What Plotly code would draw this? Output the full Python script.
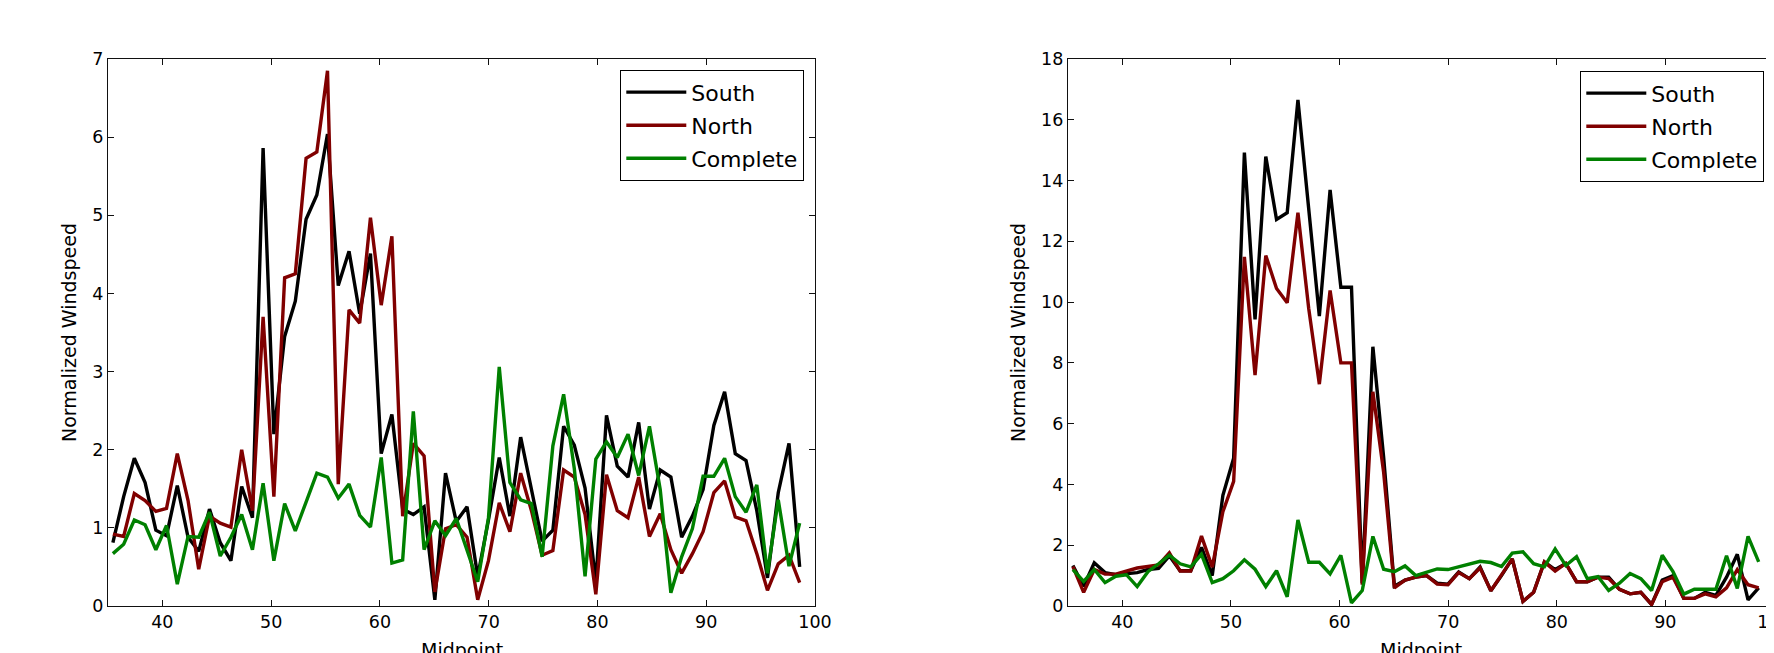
import plotly.graph_objects as go

# ---- data -------------------------------------------------------------
midpoint = [35.45, 36.44, 37.42, 38.41, 39.40, 40.38, 41.37, 42.36, 43.34, 44.33,
            45.32, 46.30, 47.29, 48.28, 49.26, 50.25, 51.24, 52.22, 53.21, 54.20,
            55.18, 56.17, 57.16, 58.14, 59.13, 60.12, 61.10, 62.09, 63.07, 64.06,
            65.05, 66.03, 67.02, 68.01, 68.99, 69.98, 70.97, 71.95, 72.94, 73.93,
            74.91, 75.90, 76.89, 77.87, 78.86, 79.85, 80.83, 81.82, 82.81, 83.79,
            84.78, 85.77, 86.75, 87.74, 88.73, 89.71, 90.70, 91.69, 92.67, 93.66,
            94.65, 95.63, 96.62, 97.61, 98.59]

# left panel
south_a = [0.81, 1.40, 1.89, 1.58, 0.97, 0.90, 1.54, 0.88, 0.70, 1.24,
           0.81, 0.58, 1.53, 1.13, 5.86, 2.20, 3.45, 3.90, 4.95, 5.26,
           6.04, 4.10, 4.54, 3.74, 4.51, 1.95, 2.45, 1.24, 1.17, 1.27,
           0.08, 1.70, 1.08, 1.27, 0.38, 1.10, 1.90, 1.15, 2.16, 1.47,
           0.83, 0.97, 2.30, 2.06, 1.51, 0.30, 2.44, 1.79, 1.65, 2.35,
           1.24, 1.74, 1.65, 0.88, 1.15, 1.49, 2.31, 2.74, 1.95, 1.86,
           1.22, 0.36, 1.45, 2.08, 0.50]
north_a = [0.92, 0.89, 1.44, 1.35, 1.21, 1.25, 1.95, 1.35, 0.47, 1.15,
           1.06, 1.01, 2.00, 1.22, 3.70, 1.40, 4.20, 4.25, 5.73, 5.81,
           6.85, 1.56, 3.79, 3.62, 4.97, 3.85, 4.73, 1.15, 2.08, 1.92,
           0.18, 0.99, 1.04, 0.88, 0.08, 0.58, 1.32, 0.95, 1.70, 1.22,
           0.65, 0.71, 1.74, 1.65, 1.17, 0.15, 1.68, 1.22, 1.13, 1.65,
           0.89, 1.18, 0.72, 0.42, 0.67, 0.95, 1.45, 1.60, 1.14, 1.09,
           0.67, 0.20, 0.54, 0.65, 0.30]
complete_a = [0.67, 0.79, 1.10, 1.04, 0.72, 1.03, 0.28, 0.89, 0.88, 1.20,
              0.64, 0.88, 1.17, 0.72, 1.57, 0.58, 1.31, 0.96, 1.33, 1.70,
              1.65, 1.38, 1.56, 1.16, 1.01, 1.90, 0.55, 0.59, 2.49, 0.72,
              1.09, 0.90, 1.12, 0.70, 0.31, 1.13, 3.06, 1.58, 1.36, 1.31,
              0.63, 2.05, 2.71, 1.76, 0.38, 1.88, 2.10, 1.90, 2.20, 1.67,
              2.30, 1.49, 0.17, 0.63, 0.99, 1.66, 1.66, 1.89, 1.40, 1.20,
              1.55, 0.42, 1.36, 0.51, 1.06]

# right panel
south_b = [1.33, 0.65, 1.42, 1.10, 1.03, 1.07, 1.10, 1.20, 1.24, 1.65,
           1.16, 1.16, 1.93, 1.00, 3.64, 4.86, 14.92, 9.43, 14.79, 12.72,
           12.94, 16.65, 13.10, 9.54, 13.69, 10.49, 10.49, 0.75, 8.53, 4.90,
           0.65, 0.85, 0.95, 1.00, 0.75, 0.72, 1.12, 0.90, 1.28, 0.50,
           1.00, 1.55, 0.15, 0.45, 1.45, 1.20, 1.40, 0.80, 0.80, 0.95,
           0.95, 0.55, 0.40, 0.45, 0.05, 0.85, 1.00, 0.25, 0.25, 0.45,
           0.35, 0.95, 1.70, 0.20, 0.60]
north_b = [1.30, 0.45, 1.20, 1.05, 1.05, 1.15, 1.25, 1.30, 1.35, 1.75,
           1.15, 1.15, 2.30, 1.28, 3.10, 4.10, 11.49, 7.60, 11.53, 10.45,
           9.98, 12.94, 9.80, 7.30, 10.38, 8.00, 8.00, 0.70, 7.05, 4.40,
           0.60, 0.85, 0.95, 1.00, 0.72, 0.70, 1.10, 0.90, 1.25, 0.50,
           1.00, 1.55, 0.15, 0.45, 1.45, 1.15, 1.40, 0.80, 0.80, 0.95,
           0.90, 0.55, 0.40, 0.45, 0.05, 0.80, 0.95, 0.25, 0.25, 0.40,
           0.30, 0.60, 1.20, 0.70, 0.60]
complete_b = [1.20, 0.81, 1.20, 0.77, 0.98, 1.03, 0.64, 1.13, 1.39, 1.67,
              1.39, 1.29, 1.70, 0.77, 0.90, 1.16, 1.52, 1.21, 0.64, 1.16,
              0.30, 2.83, 1.44, 1.44, 1.06, 1.67, 0.10, 0.51, 2.29, 1.21,
              1.13, 1.32, 1.00, 1.10, 1.22, 1.20, 1.29, 1.36, 1.47, 1.43,
              1.30, 1.74, 1.78, 1.39, 1.29, 1.88, 1.33, 1.62, 0.90, 0.97,
              0.51, 0.75, 1.07, 0.90, 0.51, 1.67, 1.13, 0.39, 0.55, 0.55,
              0.55, 1.65, 0.58, 2.29, 1.45]

series_names = ["South", "North", "Complete"]
series_colors = ["#000000", "#800000", "#008000"]
x_title = "Midpoint"
y_title = "Normalized Windspeed"

# ---- figure -----------------------------------------------------------
# the page body has an 8px margin: build the figure 8px smaller and
# express every target pixel position relative to that offset
OFF = 8
W, H = 1774 - OFF, 653 - OFF
FONT = "DejaVu Sans"


def px(v):
    return (v - OFF) / W


top_px, bot_px = 59 - OFF, 606 - OFF
plot_h = bot_px - top_px

fig = go.Figure()

panels = [
    ("x", "y", "legend", [south_a, north_a, complete_a]),
    ("x2", "y2", "legend2", [south_b, north_b, complete_b]),
]
for xa, ya, lg, ys in panels:
    for name, color, vals in zip(series_names, series_colors, ys):
        fig.add_trace(go.Scatter(
            x=midpoint, y=vals, mode="lines", name=name,
            line=dict(color=color, width=3.4),
            xaxis=xa, yaxis=ya, legend=lg, legendgroup=lg + name,
        ))

axis_common = dict(
    showgrid=False, zeroline=False, showline=True, mirror="ticks",
    linecolor="#111111", linewidth=1.3, automargin=False,
    ticks="inside", ticklen=6, tickwidth=1.1, tickcolor="#111111",
    tickfont=dict(family=FONT, size=17.5, color="black"),
)
title_font = dict(family=FONT, size=19, color="black")
legend_common = dict(
    xanchor="right", yanchor="top",
    bgcolor="white", bordercolor="black", borderwidth=1.3,
    font=dict(family=FONT, size=22, color="black"),
    tracegroupgap=1.5, itemwidth=60,
)

# x-axis titles sit partly below the bottom edge, as in the original
title_y = -(629 - bot_px) / plot_h
annotations = [
    dict(text=x_title, xref="x domain", yref="y domain", x=0.5, y=title_y,
         xanchor="center", yanchor="top", showarrow=False, font=title_font),
    dict(text=x_title, xref="x2 domain", yref="y2 domain", x=0.5, y=title_y,
         xanchor="center", yanchor="top", showarrow=False, font=title_font),
]

fig.update_layout(
    width=W, height=H,
    margin=dict(l=0, r=0, t=top_px, b=H - bot_px, pad=0),
    paper_bgcolor="white", plot_bgcolor="white",
    font=dict(family=FONT, color="black"),
    xaxis=dict(domain=[px(108), px(815)], range=[35, 100], dtick=10, tick0=0,
               anchor="y", **axis_common),
    yaxis=dict(domain=[0, 1], range=[0, 7], dtick=1, tick0=0,
               title=dict(text=y_title, font=title_font, standoff=10),
               anchor="x", **axis_common),
    xaxis2=dict(domain=[px(1068), 1.0], range=[35, 100], dtick=10, tick0=0,
                ticklabeloverflow="allow",
                anchor="y2", **axis_common),
    yaxis2=dict(domain=[0, 1], range=[0, 18], dtick=2, tick0=0,
                title=dict(text=y_title, font=title_font, standoff=10),
                anchor="x2", **axis_common),
    legend=dict(x=px(804), y=(bot_px - (70 - OFF)) / plot_h, **legend_common),
    legend2=dict(x=px(1764), y=(bot_px - (71 - OFF)) / plot_h, **legend_common),
    annotations=annotations,
    showlegend=True,
)

fig.write_html("out.html")
